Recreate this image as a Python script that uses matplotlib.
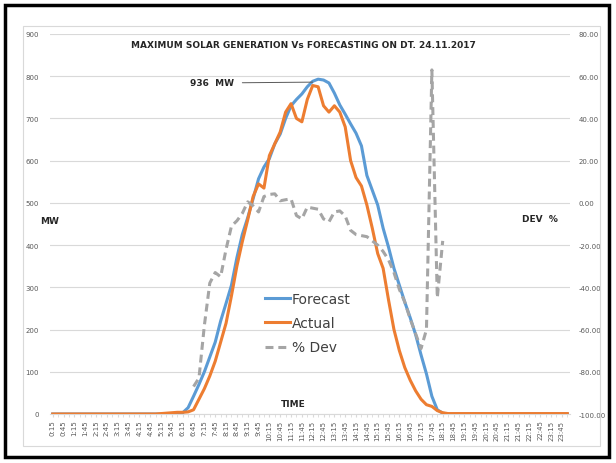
import numpy as np
import matplotlib
matplotlib.use('Agg')
import matplotlib.pyplot as plt
from matplotlib.patches import Rectangle

# 15-minute blocks from 0:15 to 24:00
times = ['{}:{:02d}'.format(((15 + 15 * k) // 60), (15 + 15 * k) % 60) for k in range(96)]

forecast = [0] * 24 + [
    3, 15, 42, 70, 100, 135, 170, 220, 262, 305,
    370, 425, 465, 510, 557, 585, 605, 640, 663, 700,
    730, 745, 758, 775, 788, 793, 791, 784, 760, 732,
    710, 687, 665, 635, 565, 530, 495, 440, 395, 345,
    305, 265, 228, 188, 140, 95, 42, 10, 2] + [0] * 23

actual = [0] * 20 + [1, 2, 3, 4, 4] + [
    5, 10, 35, 60, 90, 125, 170, 215, 280, 350,
    408, 460, 515, 545, 535, 612, 640, 668, 715, 735,
    700, 692, 745, 778, 775, 730, 715, 730, 715, 680,
    600, 560, 540, 495, 440, 380, 345, 270, 200, 150,
    110, 80, 55, 35, 22, 18, 8, 3] + [1] * 23

dev = [np.nan] * 26 + [
    -87, -83, -58, -38, -33, -35, -22, -11, -8.5, -5,
    0.5, -1.4, -4.3, 3, 4, 4.3, 1, 1.5, 1.9, -6,
    -7.6, -2, -2.5, -3, -7.6, -9, -4.3, -3.8, -6.2, -13,
    -15, -15.5, -16, -18, -20, -23, -27, -33, -41, -47,
    -55, -62, -69, -60, 63, -45, -18] + [np.nan] * 23

peak_label = '936  MW'
title = 'MAXIMUM SOLAR GENERATION Vs FORECASTING ON DT. 24.11.2017'

c_fc = '#5B9BD5'
c_ac = '#ED7D31'
c_dev = '#A5A5A5'
c_txt = '#595959'

fig = plt.figure(figsize=(6.16, 4.64), dpi=100)
W, H = 616, 464

# frame + chart area border
fig.patches.append(Rectangle((5 / W, 6 / H), 604 / W, 452 / H, transform=fig.transFigure,
                             fill=False, ec='black', lw=2.5))
fig.patches.append(Rectangle((23 / W, 17 / H), 577 / W, 420 / H, transform=fig.transFigure,
                             fill=False, ec='#D9D9D9', lw=0.8))

ax = fig.add_axes([50 / W, 49 / H, 520 / W, 380 / H])
ax2 = ax.twinx()

x = np.arange(len(times))
ax.plot(x, forecast, color=c_fc, lw=2.2, label='Forecast', zorder=3)
ax.plot(x, actual, color=c_ac, lw=2.2, label='Actual', zorder=4)
ax2.plot(x, dev, color=c_dev, lw=2.2, ls=(0, (2.6, 1.6)), label='% Dev')

ax.set_xlim(-0.5, 95.5)
ax.set_ylim(0, 900)
ax2.set_ylim(-100, 80)
ax.set_yticks(np.arange(0, 901, 100))
ax2.set_yticks(np.arange(-100, 81, 20))
ax2.set_yticklabels(['{:.2f}'.format(v) for v in np.arange(-100, 81, 20)])

ax.set_xticks(x[::2])
ax.set_xticklabels(times[::2], rotation=90)
ax.set_xticks(x, minor=True)

ax.grid(axis='y', color='#D9D9D9', lw=0.8)
ax.set_axisbelow(True)
for a in (ax, ax2):
    for s in a.spines.values():
        s.set_visible(False)
    a.tick_params(axis='y', length=0, labelsize=5, labelcolor=c_txt)
ax.spines['bottom'].set_visible(True)
ax.spines['bottom'].set_color('#D9D9D9')
ax.tick_params(axis='x', which='both', length=2, color='#D9D9D9', labelsize=5, labelcolor=c_txt, pad=2)
ax.tick_params(axis='y', pad=8)
ax2.tick_params(axis='y', pad=6)

# legend
h1, l1 = ax.get_legend_handles_labels()
h2, l2 = ax2.get_legend_handles_labels()
ax.legend(h1 + h2, l1 + l2, loc='upper left', bbox_to_anchor=(0.39, 0.355), frameon=False,
          fontsize=10, handlelength=1.8, handletextpad=0.1, labelspacing=0.75,
          labelcolor='#404040')

# texts
fig.text(303 / W, 1 - 45 / H, title, ha='center', va='center', fontsize=6.5, fontweight='bold', color='#262626')
fig.text(40 / W, 1 - 222 / H, 'MW', ha='left', va='center', fontsize=6.5, fontweight='bold', color='#262626')
fig.text(522 / W, 1 - 220 / H, 'DEV  %', ha='left', va='center', fontsize=6.5, fontweight='bold', color='#262626')
fig.text(293 / W, 1 - 405 / H, 'TIME', ha='center', va='center', fontsize=6.5, fontweight='bold', color='#262626')

pk = int(np.argmax(actual))
ax.annotate(peak_label, xy=(pk, actual[pk] + 8), xytext=(190 / W, 1 - 84 / H), textcoords='figure fraction',
            ha='left', va='center', fontsize=6.5, fontweight='bold', color='#262626',
            arrowprops=dict(arrowstyle='-', color='#595959', lw=0.7, shrinkA=4, shrinkB=0))

fig.savefig('out.png', dpi=100)
